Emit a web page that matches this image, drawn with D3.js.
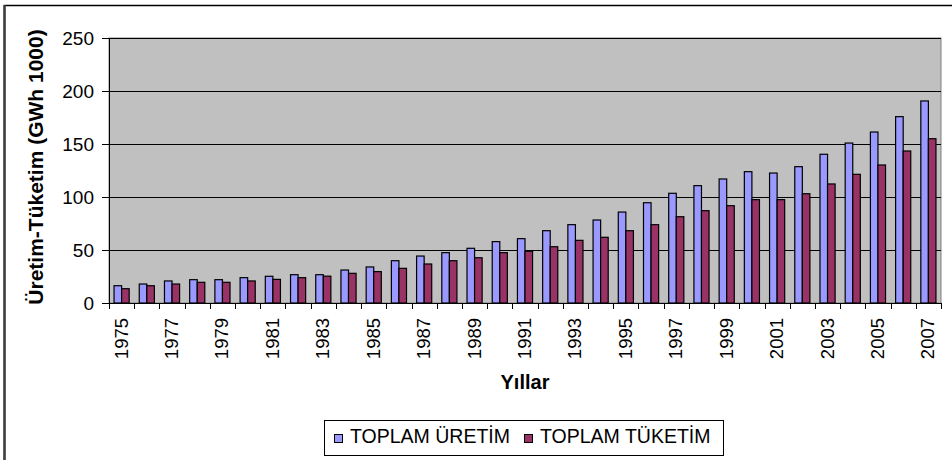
<!DOCTYPE html>
<html>
<head>
<meta charset="utf-8">
<script src="https://cdn.jsdelivr.net/npm/d3@7"></script>
<style>
  body { margin: 0; background: #fff; }
  text { font-family: Arial, "Liberation Sans", sans-serif; }
</style>
</head>
<body>
<script>
// data
var years = d3.range(1975, 2008).map(String);
var uretim = [16.3, 17.9, 20.8, 22, 22, 23.9, 25.2, 26.7, 26.7, 31.1, 34, 39.9, 44.3, 47.5, 51.6, 57.9, 60.7,
  68.2, 73.9, 78.3, 85.8, 94.6, 103.5, 110.7, 117, 123.9, 122.6, 128.6, 140.3, 150.9, 161.3, 175.8, 190.6];
var tuketim = [13.5, 16.3, 17.9, 19.5, 19.5, 20.8, 22.3, 23.9, 25.3, 28, 29.6, 32.7, 36.8, 39.9, 42.7, 47.5, 48.8,
  53.1, 59.1, 62, 68.2, 73.9, 81.4, 87.1, 91.8, 97.5, 97.5, 103.1, 112.3, 121.4, 130.2, 143.4, 155];
var seriesNames = ["TOPLAM ÜRETİM", "TOPLAM TÜKETİM"];
var seriesColors = ["#9999FF", "#993366"];
var yTicks = [0, 50, 100, 150, 200, 250];

//svg size
var svgWidth = 952;
var svgHeight = 460;
//plot area
var margin = { top: 38, right: 11, bottom: 157, left: 109 };
var width = svgWidth - margin.left - margin.right;
var height = svgHeight - margin.top - margin.bottom;

var svg = d3.select("body")
  .append("svg")
  .attr("width", svgWidth)
  .attr("height", svgHeight);

//outer chart border (cropped at right and bottom)
svg.append("rect")
  .attr("x", 4.5).attr("y", 5.5)
  .attr("width", svgWidth + 10).attr("height", svgHeight + 10)
  .attr("fill", "#fff")
  .attr("stroke", "#000")
  .attr("stroke-width", 1.5);
svg.append("line")
  .attr("x1", 4.5).attr("x2", 4.5)
  .attr("y1", 5).attr("y2", svgHeight)
  .attr("stroke", "#404040")
  .attr("stroke-width", 2.5);

var chartGroup = svg.append("g")
  .attr("transform", `translate(${margin.left}, ${margin.top})`);

//plot background
chartGroup.append("rect")
  .attr("width", width).attr("height", height)
  .attr("fill", "#C0C0C0")
  .attr("stroke", "#808080");

//scales
var xScale = d3.scaleBand()
  .domain(years)
  .range([0, width]);

var groupW = xScale.bandwidth() * 0.6;
var xInner = d3.scaleBand()
  .domain([0, 1])
  .range([(xScale.bandwidth() - groupW) / 2, (xScale.bandwidth() + groupW) / 2]);

var yScale = d3.scaleLinear()
  .domain([0, 250])
  .range([height, 0]);

//gridlines
chartGroup.append("g").selectAll("line")
  .data(yTicks.slice(1))
  .enter()
  .append("line")
  .attr("x1", 0).attr("x2", width)
  .attr("y1", d => yScale(d) + 0.5).attr("y2", d => yScale(d) + 0.5)
  .attr("stroke", "#000")
  .attr("stroke-width", 1);

//bars
var series = [uretim, tuketim];
series.forEach(function(vals, si) {
  chartGroup.append("g").selectAll("rect")
    .data(vals)
    .enter()
    .append("rect")
    .attr("x", (d, i) => xScale(years[i]) + xInner(si))
    .attr("y", d => yScale(d))
    .attr("width", xInner.bandwidth())
    .attr("height", d => height - yScale(d))
    .attr("fill", seriesColors[si])
    .attr("stroke", "#000")
    .attr("stroke-width", 1.2);
});

//y axis
var leftAxis = d3.axisLeft(yScale)
  .tickValues(yTicks)
  .tickSize(7)
  .tickPadding(8);

var yAxisG = chartGroup.append("g").call(leftAxis);
yAxisG.select(".domain").attr("stroke", "#000");
yAxisG.selectAll("text")
  .attr("font-size", "19px")
  .attr("fill", "#000")
  .style("font-family", "Arial, 'Liberation Sans', sans-serif");

//x axis: ticks on category boundaries
var xAxisG = chartGroup.append("g")
  .attr("transform", `translate(0,${height})`);

xAxisG.append("line")
  .attr("x1", 0).attr("x2", width)
  .attr("y1", 0.5).attr("y2", 0.5)
  .attr("stroke", "#000");

xAxisG.selectAll(".xtick")
  .data(years.concat(["end"]))
  .enter()
  .append("line")
  .attr("class", "xtick")
  .attr("x1", (d, i) => Math.round(i * xScale.step()) + 0.5)
  .attr("x2", (d, i) => Math.round(i * xScale.step()) + 0.5)
  .attr("y1", 0).attr("y2", 6)
  .attr("stroke", "#000");

xAxisG.selectAll(".xlabel")
  .data(years.filter((d, i) => i % 2 === 0))
  .enter()
  .append("text")
  .attr("class", "xlabel")
  .attr("transform", d => `translate(${xScale(d) + xScale.bandwidth() / 2 + 6}, 15) rotate(-90)`)
  .attr("text-anchor", "end")
  .attr("font-size", "18.5px")
  .attr("fill", "#000")
  .text(d => d);

//axis titles
svg.append("text")
  .attr("transform", "translate(43, 167) rotate(-90)")
  .attr("text-anchor", "middle")
  .attr("font-size", "21px")
  .attr("font-weight", "bold")
  .attr("fill", "#000")
  .text("Üretim-Tüketim (GWh 1000)");

svg.append("text")
  .attr("x", 525).attr("y", 389)
  .attr("text-anchor", "middle")
  .attr("font-size", "20px")
  .attr("font-weight", "bold")
  .attr("fill", "#000")
  .text("Yıllar");

//legend
var legend = svg.append("g");
legend.append("rect")
  .attr("x", 324.5).attr("y", 420.5)
  .attr("width", 399).attr("height", 35)
  .attr("fill", "#fff")
  .attr("stroke", "#000");

var legendX = [334, 524];
seriesNames.forEach(function(name, i) {
  legend.append("rect")
    .attr("x", legendX[i] + 0.5).attr("y", 434.5)
    .attr("width", 8).attr("height", 8)
    .attr("fill", seriesColors[i])
    .attr("stroke", "#000");
  legend.append("text")
    .attr("x", legendX[i] + 16).attr("y", 443)
    .attr("font-size", "19.5px")
    .attr("fill", "#000")
    .text(name);
});
</script>
</body>
</html>
